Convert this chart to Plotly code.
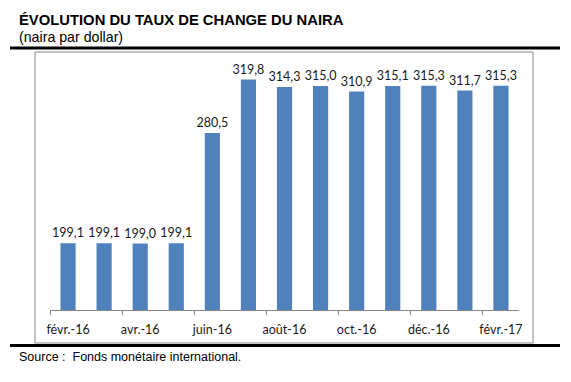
import plotly.graph_objects as go

months = ["févr.-16", "mars-16", "avr.-16", "mai-16", "juin-16", "juil.-16", "août-16",
          "sept.-16", "oct.-16", "nov.-16", "déc.-16", "janv.-17", "févr.-17"]
values = [199.1, 199.1, 199.0, 199.1, 280.5, 319.8, 314.3, 315.0, 310.9, 315.1, 315.3, 311.7, 315.3]
tick_idx = list(range(0, len(months), 2))
tick_labels = [months[i] for i in tick_idx]

title = "ÉVOLUTION DU TAUX DE CHANGE DU NAIRA"
subtitle = "(naira par dollar)"
source = "Source :  Fonds monétaire international."

# page body has an 8px margin; work in window pixel coordinates
OFF = 8
W, H = 571 - 2 * OFF, 382 - 2 * OFF
PLOT_L, PLOT_R, PLOT_T, PLOT_B = 50, 519, 60, 310  # window coords
L = PLOT_L - OFF
R = W - (PLOT_R - OFF)
T = PLOT_T - OFF
B = H - (PLOT_B - OFF)
pw, ph = W - L - R, H - T - B

def px(x):
    return (x - PLOT_L) / pw

def py(y):
    return (PLOT_B - y) / ph

x = list(range(len(months)))

fig = go.Figure(go.Bar(
    x=x, y=values, width=0.42,
    marker=dict(color="#4F81BD", line=dict(width=0)),
    texttemplate="%{y:.1f}", textposition="outside", constraintext="none",
    textfont=dict(family="Lato", size=12.5, color="#1a1a1a"),
    cliponaxis=False, hoverinfo="skip",
))

minor_ticks = [i - 0.5 for i in range(0, len(months), 2)]

fig.update_layout(
    width=W, height=H,
    margin=dict(l=L, r=R, t=T, b=B),
    paper_bgcolor="white", plot_bgcolor="white",
    separators=", ",
    showlegend=False,
    xaxis=dict(
        range=[-0.5, len(months) - 0.5],
        tickmode="array", tickvals=tick_idx, ticktext=tick_labels,
        ticks="", showgrid=False, zeroline=False,
        showline=True, linecolor="#868686", linewidth=1,
        tickfont=dict(family="Lato", size=12.5, color="#1a1a1a"),
        ticklabelstandoff=8,
        minor=dict(tickmode="array", tickvals=minor_ticks, ticks="outside",
                   ticklen=4, tickcolor="#868686", tickwidth=1, showgrid=False),
        fixedrange=True,
    ),
    yaxis=dict(
        range=[150, 334.2], visible=False, showgrid=False, zeroline=False,
        fixedrange=True,
    ),
    shapes=[
        dict(type="rect", xref="paper", yref="paper",
             x0=px(35), x1=px(533), y0=py(343), y1=py(52),
             line=dict(color="#888888", width=1), fillcolor="rgba(0,0,0,0)", layer="below"),
        dict(type="line", xref="paper", yref="paper",
             x0=px(10), x1=px(560), y0=py(48), y1=py(48),
             line=dict(color="black", width=3)),
        dict(type="line", xref="paper", yref="paper",
             x0=px(10), x1=px(560), y0=py(345.5), y1=py(345.5),
             line=dict(color="black", width=3)),
    ],
    annotations=[
        dict(text="<b>" + title + "</b>", xref="paper", yref="paper",
             x=px(17), y=py(20), xanchor="left", yanchor="middle", showarrow=False,
             font=dict(family="Liberation Sans", size=14.8, color="black")),
        dict(text=subtitle, xref="paper", yref="paper",
             x=px(17), y=py(37), xanchor="left", yanchor="middle", showarrow=False,
             font=dict(family="Liberation Sans", size=14.2, color="black")),
        dict(text=source, xref="paper", yref="paper",
             x=px(17), y=py(357), xanchor="left", yanchor="middle", showarrow=False,
             font=dict(family="Liberation Sans", size=12.5, color="black")),
    ],
)

fig.write_html("out.html", config={"displayModeBar": False})
